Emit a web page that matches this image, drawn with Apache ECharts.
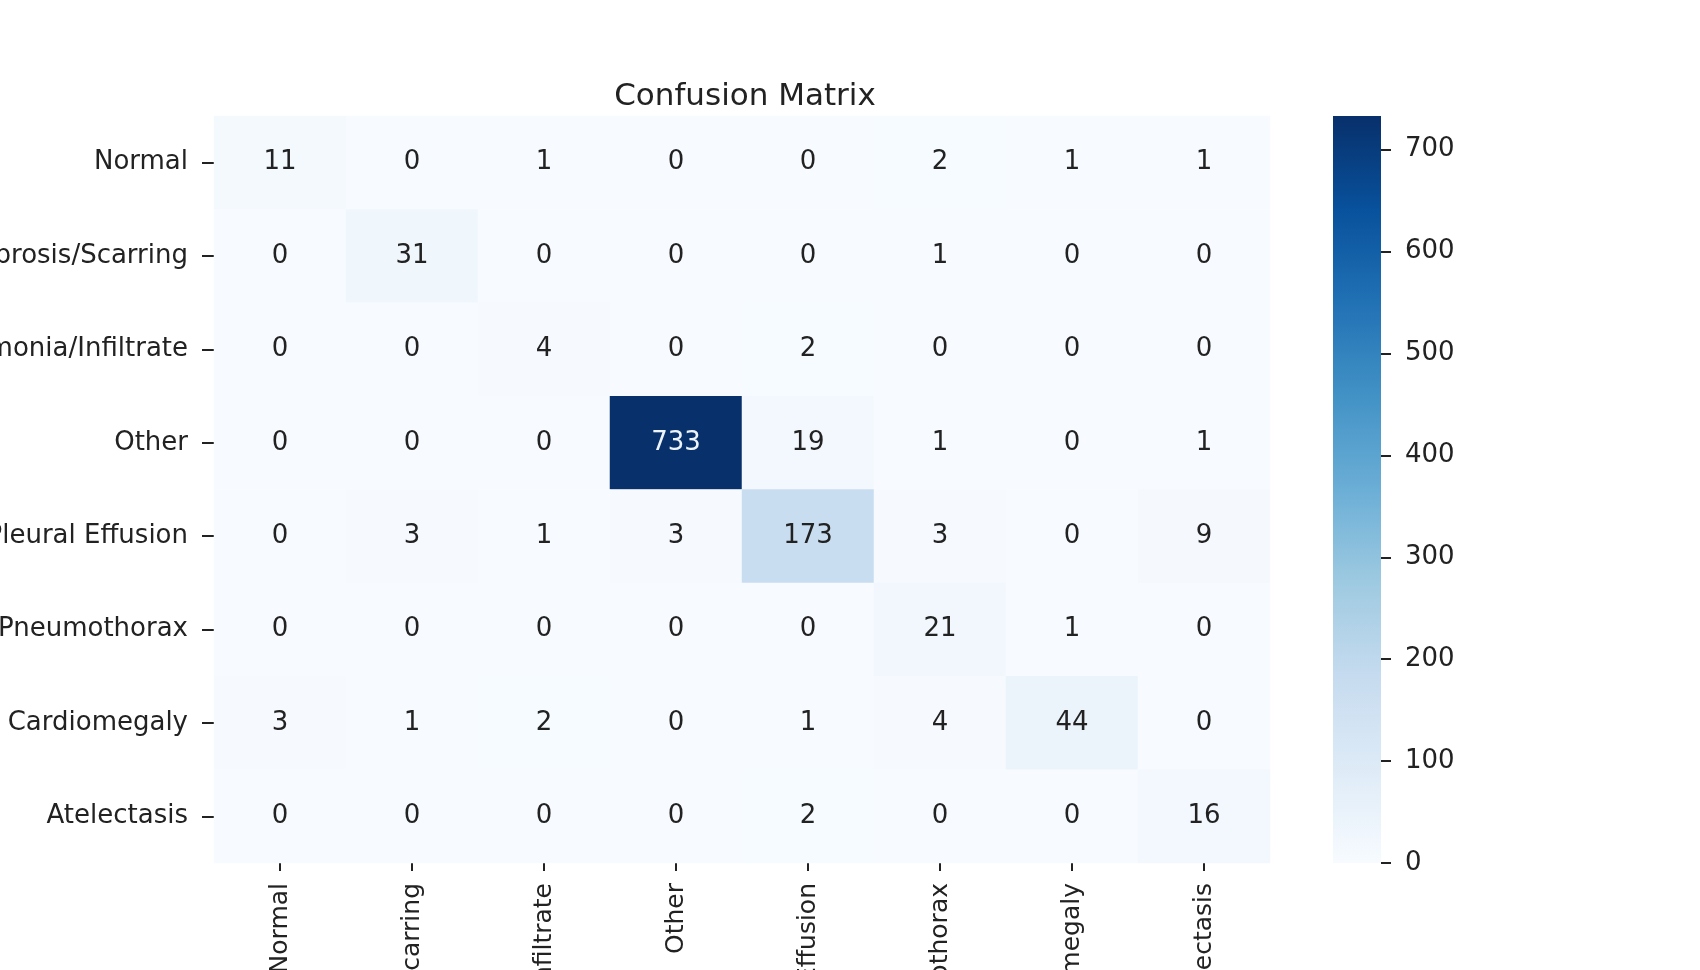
<!DOCTYPE html>
<html>
<head>
<meta charset="utf-8">
<script src="https://cdn.jsdelivr.net/npm/echarts@6/dist/echarts.min.js"></script>
<style>
html,body{margin:0;padding:0;background:#fff;}
#chart{width:1700px;height:970px;}
</style>
</head>
<body>
<div id="chart"></div>
<script>
// ---- data ----
var categories = ["Normal", "Fibrosis/Scarring", "Pneumonia/Infiltrate", "Other",
                  "Pleural Effusion", "Pneumothorax", "Cardiomegaly", "Atelectasis"];
var rowNormal      = [11, 0, 1, 0, 0, 2, 1, 1];
var rowFibrosis    = [0, 31, 0, 0, 0, 1, 0, 0];
var rowPneumonia   = [0, 0, 4, 0, 2, 0, 0, 0];
var rowOther       = [0, 0, 0, 733, 19, 1, 0, 1];
var rowEffusion    = [0, 3, 1, 3, 173, 3, 0, 9];
var rowPneumothorax= [0, 0, 0, 0, 0, 21, 1, 0];
var rowCardio      = [3, 1, 2, 0, 1, 4, 44, 0];
var rowAtelectasis = [0, 0, 0, 0, 2, 0, 0, 16];
var colorbarTicks  = [0, 100, 200, 300, 400, 500, 600, 700];
var titleText = "Confusion Matrix";

// ---- build ----
var rows = [rowNormal, rowFibrosis, rowPneumonia, rowOther, rowEffusion, rowPneumothorax, rowCardio, rowAtelectasis];
var heatData = [];
var vmax = 0;
rows.forEach(function (r, yi) {
  r.forEach(function (v, xi) {
    heatData.push([xi, yi, v]);
    if (v > vmax) vmax = v;
  });
});
var blues = ['#f7fbff', '#deebf7', '#c6dbef', '#9ecae1', '#6baed6', '#4292c6', '#2171b5', '#08519c', '#08306b'];
var stops = blues.map(function (c, i) { return { offset: i / (blues.length - 1), color: c }; });

var FONT = 'DejaVu Sans';
var TXT = '#222222';

var chart = echarts.init(document.getElementById('chart'), null, { renderer: 'canvas' });
chart.setOption({
  backgroundColor: '#ffffff',
  animation: false,
  title: {
    text: titleText,
    left: 740, top: 76, textAlign: 'center',
    textStyle: { fontFamily: FONT, fontSize: 31, fontWeight: 'normal', color: TXT }
  },
  grid: [
    { left: 214, top: 116, width: 1056, height: 747, containLabel: false, outerBoundsMode: 'none' },
    { left: 1333, top: 116, width: 48, height: 747, containLabel: false, outerBoundsMode: 'none' }
  ],
  xAxis: [
    {
      type: 'category', gridIndex: 0, data: categories, position: 'bottom',
      axisLine: { show: false },
      axisTick: { show: true, alignWithLabel: true, length: 8, lineStyle: { color: TXT, width: 2 } },
      axisLabel: { rotate: 90, margin: 20, fontFamily: FONT, fontSize: 25, color: TXT, interval: 0 },
      splitLine: { show: false }
    },
    { type: 'category', gridIndex: 1, data: ['c'], show: false }
  ],
  yAxis: [
    {
      type: 'category', gridIndex: 0, data: categories, inverse: true,
      axisLine: { show: false },
      axisTick: { show: true, alignWithLabel: true, length: 12, lineStyle: { color: TXT, width: 2 } },
      axisLabel: { margin: 26, fontFamily: FONT, fontSize: 26, color: TXT, interval: 0 },
      splitLine: { show: false }
    },
    {
      type: 'value', gridIndex: 1, min: 0, max: vmax, position: 'right',
      axisLine: { show: false },
      axisTick: { show: true, length: 10, customValues: colorbarTicks, lineStyle: { color: TXT, width: 2 } },
      axisLabel: { margin: 24, fontFamily: FONT, fontSize: 26, color: TXT, customValues: colorbarTicks },
      splitLine: { show: false }
    }
  ],
  visualMap: {
    show: false, type: 'continuous', min: 0, max: vmax, dimension: 2, seriesIndex: 0,
    inRange: { color: blues }
  },
  series: [
    {
      type: 'heatmap', xAxisIndex: 0, yAxisIndex: 0, data: heatData,
      itemStyle: { borderWidth: 0 },
      label: {
        show: true, fontFamily: FONT, fontSize: 26,
        formatter: function (p) {
          var v = p.value[2];
          return (v > vmax / 2 ? '{w|' : '{d|') + v + '}';
        },
        rich: {
          w: { color: '#eef4fb', fontFamily: FONT, fontSize: 26 },
          d: { color: TXT, fontFamily: FONT, fontSize: 26 }
        }
      },
      emphasis: { disabled: true }
    },
    {
      type: 'bar', xAxisIndex: 1, yAxisIndex: 1, data: [vmax], barWidth: '100%',
      silent: true,
      itemStyle: { color: { type: 'linear', x: 0, y: 1, x2: 0, y2: 0, colorStops: stops } }
    }
  ]
});
</script>
</body>
</html>
